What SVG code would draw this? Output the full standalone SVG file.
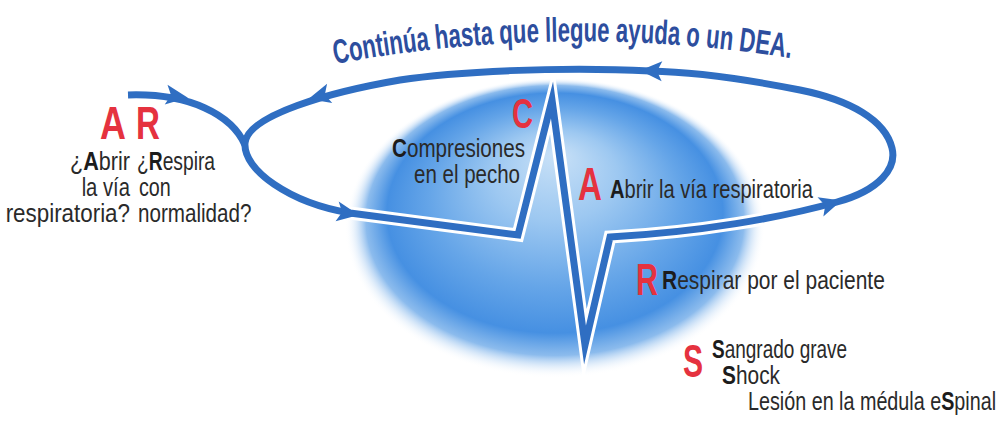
<svg xmlns="http://www.w3.org/2000/svg" width="1002" height="421" viewBox="0 0 1002 421">
<defs>
<radialGradient id="blobGrad" cx="0.5" cy="0.5" r="0.5" fx="0.5" fy="0.25">
<stop offset="0" stop-color="#c9e1f7"/>
<stop offset="0.3" stop-color="#9dc8f1"/>
<stop offset="0.6" stop-color="#65a5e8"/>
<stop offset="0.8" stop-color="#4690e2"/>
<stop offset="0.9" stop-color="#5a9ee5" stop-opacity="0.7"/>
<stop offset="1" stop-color="#ffffff" stop-opacity="0"/>
</radialGradient>
<path id="arrowHead" d="M12,0 L-10,-10 L-5,0 L-10,10 Z"/>
<path id="titleArc" d="M 335,64 Q 560,22 790,58"/>
</defs>
<style>
.body{font-family:"Liberation Sans",Arial,sans-serif;font-size:25px;fill:#2a2a2a}
.b{font-weight:bold;fill:#1c1c1c}
.big{font-family:"Liberation Sans",Arial,sans-serif;font-weight:bold;fill:#e5323f}
.title{font-family:"Liberation Sans",Arial,sans-serif;font-weight:bold;font-size:34px;fill:#2d4e9e}
.halo{fill:none;stroke:#ffffff;stroke-width:13;stroke-miterlimit:12}
.line{fill:none;stroke:#2f6ec2;stroke-width:7;stroke-miterlimit:12}
.ah{fill:#2f6ec2}
.end{text-anchor:end}
</style>
<rect width="1002" height="421" fill="#ffffff"/>
<g id="blob">
<ellipse cx="555" cy="228" rx="210" ry="150" fill="url(#blobGrad)"/>
</g>
<g id="connectors">
<path class="halo" d="M 245,143 C 243,170 290,203 350,213 L 518,235 L 552,100 L 585,345 L 610,237 C 700,232 780,218 837,202 C 880,190 897,168 892,148 C 885,120 850,100 800,90 C 750,80 700,72 650,71 C 560,66 450,72 400,80 C 330,92 248,115 245,143 Z"/>
<path class="line" d="M 128,95 C 190,93 232,115 245,145"/>
<path class="line" d="M 245,143 C 243,170 290,203 350,213 L 518,235 L 552,100 L 585,345 L 610,237 C 700,232 780,218 837,202 C 880,190 897,168 892,148 C 885,120 850,100 800,90 C 750,80 700,72 650,71 C 560,66 450,72 400,80 C 330,92 248,115 245,143 Z"/>
<use href="#arrowHead" class="ah" transform="translate(176,96) rotate(8)"/>
<use href="#arrowHead" class="ah" transform="translate(320,96) rotate(165)"/>
<use href="#arrowHead" class="ah" transform="translate(347,213) rotate(9)"/>
<use href="#arrowHead" class="ah" transform="translate(830,204) rotate(-17)"/>
<use href="#arrowHead" class="ah" transform="translate(652,71) rotate(182)"/>
</g>
<g id="title">
<text class="title"><textPath href="#titleArc" textLength="458" lengthAdjust="spacingAndGlyphs">Continúa hasta que llegue ayuda o un DEA.</textPath></text>
</g>
<g id="step-AR">
<text class="big" font-size="46" transform="translate(100,139) scale(0.78,1)">A</text>
<text class="big" font-size="46" transform="translate(136,139) scale(0.72,1)">R</text>
<text class="body end" transform="translate(130,170) scale(0.865,1)">¿<tspan class="b">A</tspan>brir</text>
<text class="body end" transform="translate(130,196) scale(0.81,1)">la vía</text>
<text class="body end" transform="translate(130,222) scale(0.895,1)">respiratoria?</text>
<text class="body" transform="translate(137,170) scale(0.77,1)">¿<tspan class="b">R</tspan>espira</text>
<text class="body" transform="translate(139,196) scale(0.79,1)">con</text>
<text class="body" transform="translate(138,222) scale(0.825,1)">normalidad?</text>
</g>
<g id="step-C">
<text class="big" font-size="43" transform="translate(512,128) scale(0.68,1)">C</text>
<text class="body end" transform="translate(525,157) scale(0.825,1)"><tspan class="b">C</tspan>ompresiones</text>
<text class="body end" transform="translate(520,183) scale(0.82,1)">en el pecho</text>
</g>
<g id="step-A">
<text class="big" font-size="46" transform="translate(578,200) scale(0.72,1)">A</text>
<text class="body" transform="translate(610,198) scale(0.803,1)"><tspan class="b">A</tspan>brir la vía respiratoria</text>
</g>
<g id="step-R">
<text class="big" font-size="44" transform="translate(636,295) scale(0.69,1)">R</text>
<text class="body" transform="translate(662,289) scale(0.84,1)"><tspan class="b">R</tspan>espirar por el paciente</text>
</g>
<g id="step-S">
<text class="big" font-size="47" transform="translate(683,377) scale(0.64,1)">S</text>
<text class="body" transform="translate(712,358) scale(0.76,1)"><tspan class="b">S</tspan>angrado grave</text>
<text class="body" transform="translate(722,384) scale(0.835,1)"><tspan class="b">S</tspan>hock</text>
<text class="body" transform="translate(748,410) scale(0.79,1)">Lesión en la médula e<tspan class="b">S</tspan>pinal</text>
</g>
</svg>
